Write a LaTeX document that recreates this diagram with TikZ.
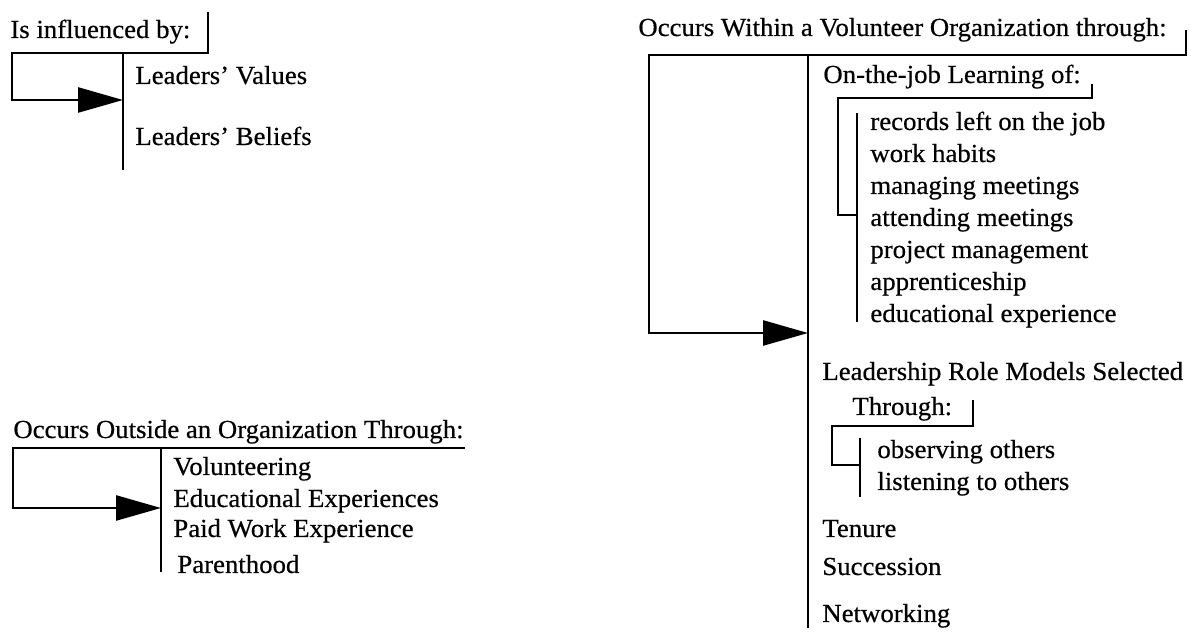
\documentclass[tikz,border=0pt]{standalone}
\usepackage{fontspec}
\setmainfont{Liberation Serif}[FakeStretch=1.03,FakeBold=0.5]
\usetikzlibrary{arrows.meta,positioning}
\tikzset{
  tx/.style={anchor=base west,inner sep=0pt,font=\fontsize{13}{15}\selectfont},
  br/.style={line width=1.2pt},
  fd/.style={line width=1.3pt,-{Triangle[length=22.5pt,width=12.5pt]}},
  every picture/.style={line cap=butt,line join=miter}}
\begin{document}
\begin{tikzpicture}[x=0.5pt,y=-0.5pt]
  \useasboundingbox (0,0) rectangle (1191,635);
  % is influenced by
  \node[tx] (h1) at (10,38){Is influenced by:};
  \node[tx] (a1) at (135,84){Leaders' Values};\node[tx] (a2) at (135,145){Leaders' Beliefs};
  \coordinate (t1) at (208,12);\coordinate (c1) at (12,53);\coordinate (p1) at (123,100);
  \coordinate (s1) at (123,53);\coordinate (e1) at (123,170);
  \draw[fd] (t1) |- (c1) |- (p1);
  \draw[br] (s1)--(e1);
  % outside an organization
  \node[tx] (h2) at (13,438){Occurs Outside an Organization Through:};
  \foreach \t/\y [count=\i] in {Volunteering/475,Educational Experiences/507,Paid Work Experience/537}
    \node[tx] (b\i) at (173,\y){\t};
  \node[tx] (b4) at (177,573){Parenthood};
  \coordinate (t2) at (465,448);\coordinate (c2) at (13,448);\coordinate (p2) at (161,508);
  \coordinate (s2) at (161,448);\coordinate (e2) at (161,572);
  \draw[fd] (t2) -- (c2) |- (p2);
  \draw[br] (s2)--(e2);
  % within a volunteer organization
  \node[tx] (h3) at (638,36){Occurs Within a Volunteer Organization through:};
  \coordinate (t3) at (1186,30);\coordinate (c3) at (649,55);\coordinate (p3) at (808,333);
  \coordinate (s3) at (808,55);\coordinate (e3) at (808,628);
  \draw[fd] (t3) |- (c3) |- (p3);
  \draw[br] (s3)--(e3);
  \node[tx] (g1) at (823,83){On-the-job Learning of:};
  \foreach \t [count=\i] in {records left on the job,work habits,managing meetings,attending meetings,
    project management,apprenticeship,educational experience}
    \node[tx] (j\i) at (870,{98+32*\i}){\t};
  \coordinate (t4) at (1092,84);\coordinate (c4) at (838,98);\coordinate (p4) at (857,215);
  \coordinate (s4) at (857,113);\coordinate (e4) at (857,322);
  \draw[br] (t4) |- (c4) |- (p4);
  \draw[br] (s4)--(e4);
  \node[tx] (g2) at (822,380){Leadership Role Models Selected};
  \node[tx] (g2b) at (852,415){Through:};
  \node[tx] (m1) at (877,458){observing others};\node[tx] (m2) at (877,490){listening to others};
  \coordinate (t5) at (973,400);\coordinate (c5) at (832,426);\coordinate (p5) at (860,465);
  \coordinate (s5) at (860,438);\coordinate (e5) at (860,497);
  \draw[br] (t5) |- (c5) |- (p5);
  \draw[br] (s5)--(e5);
  \node[tx] (g3) at (822,537){Tenure};\node[tx] (g4) at (822,575){Succession};
  \node[tx] (g5) at (822,622){Networking};
\end{tikzpicture}
\end{document}
